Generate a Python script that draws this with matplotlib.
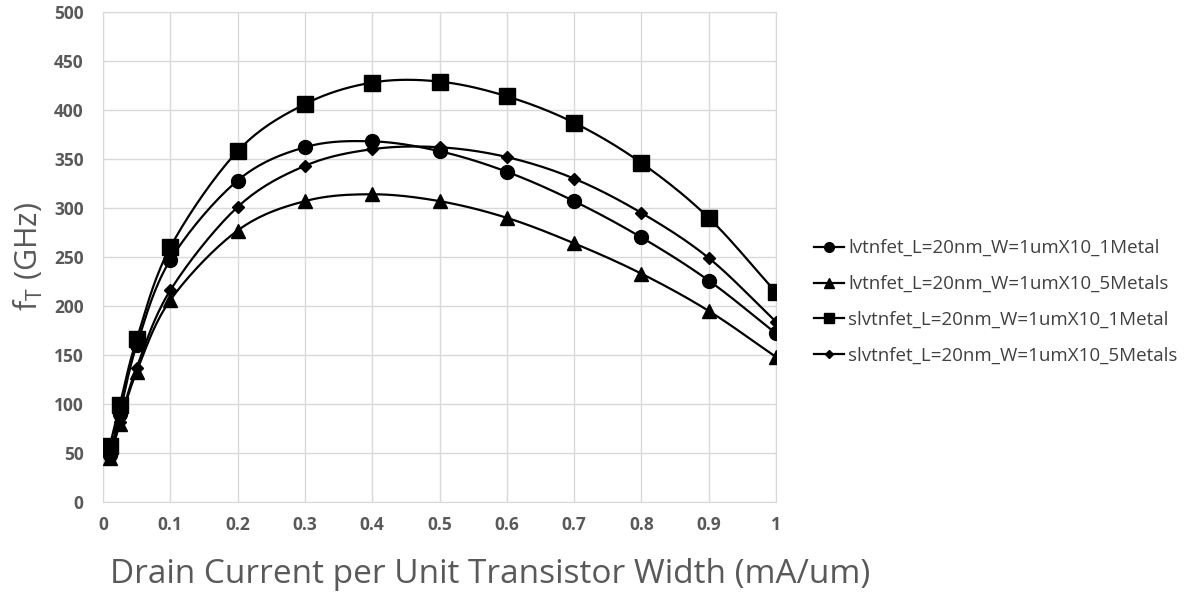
import numpy as np
import matplotlib
matplotlib.use('Agg')
from matplotlib import pyplot as plt

# drain current per unit width (mA/um)
x = [0.01, 0.025, 0.05, 0.1, 0.2, 0.3, 0.4, 0.5, 0.6, 0.7, 0.8, 0.9, 1.0]

lvt_1m = [48, 90, 160, 247, 328, 362, 368, 358, 337, 307, 270, 226, 172]
lvt_5m = [45, 80, 133, 206, 277, 307, 314, 307, 290, 264, 233, 195, 148]
slvt_1m = [57, 99, 166, 260, 358, 406, 428, 429, 414, 387, 346, 290, 214]
slvt_5m = [46, 82, 137, 216, 301, 343, 360, 362, 352, 330, 295, 249, 184]

labels = ['lvtnfet_L=20nm_W=1umX10_1Metal',
          'lvtnfet_L=20nm_W=1umX10_5Metals',
          'slvtnfet_L=20nm_W=1umX10_1Metal',
          'slvtnfet_L=20nm_W=1umX10_5Metals']


def smooth(xs, ys, n=20):
    # catmull-rom curve through the points, like excel's smoothed line
    xs = np.asarray(xs, float)
    ys = np.asarray(ys, float)
    px = np.concatenate([[2 * xs[0] - xs[1]], xs, [2 * xs[-1] - xs[-2]]])
    py = np.concatenate([[2 * ys[0] - ys[1]], ys, [2 * ys[-1] - ys[-2]]])
    ox, oy = [], []
    t = np.linspace(0, 1, n)
    for i in range(1, len(px) - 2):
        for p, o in ((px, ox), (py, oy)):
            p0, p1, p2, p3 = p[i - 1], p[i], p[i + 1], p[i + 2]
            o.extend(0.5 * ((2 * p1) + (-p0 + p2) * t +
                            (2 * p0 - 5 * p1 + 4 * p2 - p3) * t ** 2 +
                            (-p0 + 3 * p1 - 3 * p2 + p3) * t ** 3))
    return ox, oy


plt.rcParams['font.family'] = ['Open Sans', 'DejaVu Sans']

fig = plt.figure(figsize=(11.93, 5.94), dpi=100)
ax = fig.add_axes([103 / 1193, 92 / 594, 673 / 1193, 490 / 594])

series = [(lvt_1m, 'o', 10), (lvt_5m, '^', 10), (slvt_1m, 's', 11), (slvt_5m, 'D', 6.5)]
for (ys, mk, ms), lab in zip(series, labels):
    sx, sy = smooth(x, ys)
    ax.plot(sx, sy, '-', color='k', lw=1.6, zorder=3)
    ax.plot(x, ys, mk, color='k', ms=ms, zorder=4)
    ax.plot([], [], '-', marker=mk, color='k', lw=1.6, ms=ms * 0.7, label=lab)

ax.set_xlim(0, 1)
ax.set_ylim(0, 500)
ax.set_xticks(np.arange(0, 1.01, 0.1))
ax.set_xticklabels(['0', '0.1', '0.2', '0.3', '0.4', '0.5', '0.6', '0.7', '0.8', '0.9', '1'])
ax.set_yticks(np.arange(0, 501, 50))
ax.grid(True, color='#d9d9d9', lw=1)
ax.set_axisbelow(True)
for s in ax.spines.values():
    s.set_color('#d9d9d9')
ax.tick_params(length=0, colors='#595959', labelsize=12.5, pad=14)
ax.tick_params(axis='x', pad=10)
for t in ax.get_xticklabels() + ax.get_yticklabels():
    t.set_fontweight('bold')

ax.set_xlabel('Drain Current per Unit Transistor Width (mA/um)', fontsize=24,
              color='#595959')
ax.xaxis.set_label_coords(0.575, -0.115)
ax.set_ylabel('f$_\\mathregular{T}$ (GHz)', fontsize=22, color='#595959', labelpad=6)

fig.legend(loc='center left', bbox_to_anchor=(805 / 1193, 1 - 302 / 594), frameon=False,
           fontsize=13.5, labelcolor='#404040', handlelength=1.6, handletextpad=0.2,
           labelspacing=0.95, borderpad=0)

fig.savefig('out.png', dpi=100)
